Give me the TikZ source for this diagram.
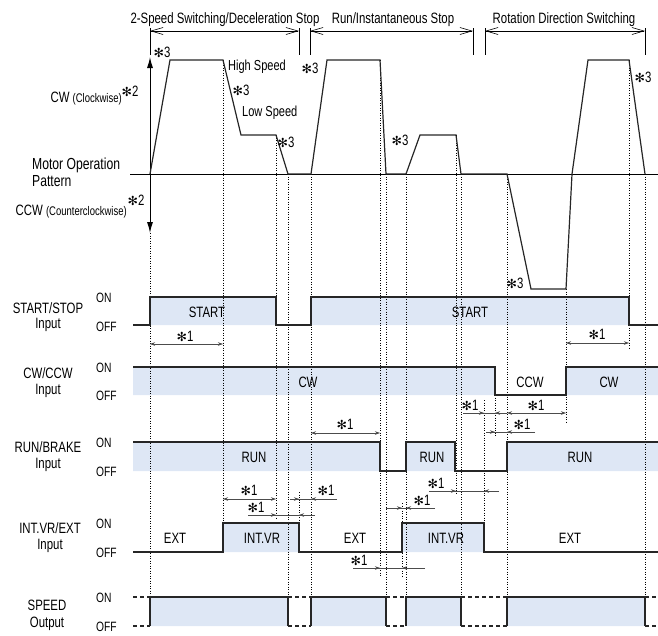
\documentclass[tikz,border=0pt]{standalone}
\usepackage{fontspec}
\setmainfont[FakeStretch=0.76]{Liberation Sans}
\newfontfamily\symfont{DejaVu Sans}
\usepackage{tikz}
\usetikzlibrary{arrows.meta}
\definecolor{bandblue}{RGB}{222,231,245}
\newcommand\starnote[1]{{\symfont\fontsize{12.5}{12.5}\selectfont ✻}#1}

\begin{document}
\begin{tikzpicture}[
    x=1pt, y=-1pt,
    txt/.style={inner sep=0, font=\fontsize{15}{17}\selectfont},
    lbl/.style={txt, anchor=base},
    small/.style={inner sep=0, font=\fontsize{14.5}{16}\selectfont},
    lvl/.style={inner sep=0, anchor=base west, font=\fontsize{13.5}{15}\selectfont},
    note/.style={inner sep=0, font=\fontsize{15}{17}\selectfont},
    band/.style={fill=bandblue},
    sig/.style={line width=1.3pt, draw=black!85},
    undef/.style={line width=1.2pt, draw=black!85, dash pattern=on 4pt off 3pt},
    guide/.style={line width=0.6pt, dash pattern=on 1pt off 1.5pt},
    dimline/.style={line width=0.6pt, draw=black!70},
    dim/.style={dimline, -{Stealth[length=5pt,width=3.5pt]}},
    dimboth/.style={dimline, {Stealth[length=5pt,width=3.5pt]}-{Stealth[length=5pt,width=3.5pt]}},
    span/.style={line width=0.6pt, {Straight Barb[length=12pt,width=7pt]}-{Straight Barb[length=12pt,width=7pt]}},
    axis/.style={line width=1pt, {Latex[length=11pt,width=6pt]}-{Latex[length=11pt,width=6pt]}},
]
\useasboundingbox (0,0) rectangle (658,635);

% === SECTION SPANS ===
\node[lbl] (sec1) at (225,23) {2-Speed Switching/Deceleration Stop};
\node[lbl] (sec2) at (393,23) {Run/Instantaneous Stop};
\node[lbl] (sec3) at (564,23) {Rotation Direction Switching};
\draw[line width=0.6pt] (150,28) -- (150,55) (299,28) -- (299,55) (310,28) -- (310,55)
    (473,28) -- (473,55) (485,28) -- (485,55) (645,28) -- (645,55);
\draw[span] (150,31) -- (299,31);
\draw[span] (310,31) -- (473,31);
\draw[span] (485,31) -- (645,31);

% === BANDS ===
\fill[band] (150,297) rectangle (276,325) (311,297) rectangle (629,325);
\fill[band] (133,367) rectangle (495,395) (566,367) rectangle (658,395);
\fill[band] (133,442) rectangle (380,471) (406,442) rectangle (455,471) (507,442) rectangle (658,471);
\fill[band] (223,523) rectangle (299,552) (402,523) rectangle (484,552);
\fill[band] (150,597) rectangle (288,626) (311,597) rectangle (386,626)
    (406,597) rectangle (461,626) (507,597) rectangle (645,626);

% === GUIDES ===
\draw[guide] (150,233) -- (150,597) (223,60) -- (223,523) (276,135) -- (276,520)
    (288,174) -- (288,597) (299,492) -- (299,523) (311,174) -- (311,597)
    (380,60) -- (380,577) (386,174) -- (386,597) (402,503) -- (402,577)
    (406,174) -- (406,597) (456,135) -- (456,495) (461,174) -- (461,597)
    (484,400) -- (484,523) (495,395) -- (495,437) (507,174) -- (507,597)
    (566,289) -- (566,422) (629,60) -- (629,350) (645,174) -- (645,597);

% === MOTOR OPERATION PATTERN ===
\draw[line width=0.9pt] (130,174) -- (658,174);
\draw[axis] (150,57) -- (150,233);
\draw[sig, line width=1.2pt] (150,174) -- (170,60) -- (223,60) -- (241,135) -- (276,135)
    -- (288,174) -- (311,174) -- (327,60) -- (380,60) -- (386,174) -- (406,174)
    -- (420,135) -- (456,135) -- (461,174) -- (507,174) -- (531,289) -- (566,289)
    -- (572,174) -- (588,60) -- (629,60) -- (645,174);

\node[txt, anchor=base east] (cwlbl) at (122,102) {CW {\fontsize{12.5}{14}\selectfont (Clockwise)}};
\node[note] (cwnote) at (130,91) {\starnote{2}};
\node[txt, anchor=base west, font=\fontsize{16}{18}\selectfont] (motor1) at (32,169) {Motor Operation};
\node[txt, anchor=base west, font=\fontsize{16}{18}\selectfont] (motor2) at (32,186.5) {Pattern};
\node[txt, anchor=base east] (ccwlbl) at (127,215) {CCW {\fontsize{12.5}{14}\selectfont (Counterclockwise)}};
\node[note] (ccwnote) at (136,200) {\starnote{2}};

\node[small, anchor=base west] (high) at (228,70.5) {High Speed};
\node[small, anchor=base west] (low) at (242,116.5) {Low Speed};
\node[note] (acc1) at (162,52) {\starnote{3}};
\node[note] (dec1) at (241,90) {\starnote{3}};
\node[note] (dec2) at (286,142) {\starnote{3}};
\node[note] (acc2) at (310,68) {\starnote{3}};
\node[note] (acc3) at (400,140) {\starnote{3}};
\node[note] (acc4) at (515,283) {\starnote{3}};
\node[note] (dec3) at (643,77) {\starnote{3}};

% === START/STOP INPUT ===
\draw[sig] (133,325) -- (150,325) -- (150,297) -- (276,297) -- (276,325) -- (311,325)
    -- (311,297) -- (629,297) -- (629,325) -- (658,325);
\node[lbl] (startA) at (48,313) {START/STOP};
\node[lbl] (startB) at (48,328) {Input};
\node[lvl] (startOn) at (96,302) {ON};
\node[lvl] (startOff) at (96,331) {OFF};
\node[lbl] (start1) at (207,317) {START};
\node[lbl] (start2) at (470,317) {START};

% === CW/CCW INPUT ===
\draw[sig] (133,367) -- (495,367) -- (495,395) -- (566,395) -- (566,367) -- (658,367);
\node[lbl] (dirA) at (48,378) {CW/CCW};
\node[lbl] (dirB) at (48,394) {Input};
\node[lvl] (dirOn) at (96,372) {ON};
\node[lvl] (dirOff) at (96,400) {OFF};
\node[lbl] (cw1) at (308,387) {CW};
\node[lbl] (ccw1) at (530,387) {CCW};
\node[lbl] (cw2) at (609,387) {CW};

% === RUN/BRAKE INPUT ===
\draw[sig] (133,442) -- (380,442) -- (380,471) -- (406,471) -- (406,442) -- (455,442)
    -- (455,471) -- (507,471) -- (507,442) -- (658,442);
\node[lbl] (runA) at (48,452) {RUN/BRAKE};
\node[lbl] (runB) at (48,468) {Input};
\node[lvl] (runOn) at (96,447) {ON};
\node[lvl] (runOff) at (96,476) {OFF};
\node[lbl] (run1) at (254,462) {RUN};
\node[lbl] (run2) at (432,462) {RUN};
\node[lbl] (run3) at (580,462) {RUN};

% === INT.VR/EXT INPUT ===
\draw[sig] (133,552) -- (223,552) -- (223,523) -- (299,523) -- (299,552) -- (402,552)
    -- (402,523) -- (484,523) -- (484,552) -- (658,552);
\node[lbl] (vrA) at (50,533) {INT.VR/EXT};
\node[lbl] (vrB) at (50,549) {Input};
\node[lvl] (vrOn) at (96,528) {ON};
\node[lvl] (vrOff) at (96,557) {OFF};
\node[lbl] (ext1) at (175,543) {EXT};
\node[lbl] (intvr1) at (262,543) {INT.VR};
\node[lbl] (ext2) at (355,543) {EXT};
\node[lbl] (intvr2) at (446,543) {INT.VR};
\node[lbl] (ext3) at (570,543) {EXT};

% === SPEED OUTPUT ===
\draw[sig] (150,626) -- (150,597) -- (288,597) -- (288,626);
\draw[sig] (311,626) -- (311,597) -- (386,597) -- (386,626);
\draw[sig] (406,626) -- (406,597) -- (461,597) -- (461,626);
\draw[sig] (507,626) -- (507,597) -- (645,597) -- (645,626);
\draw[undef] (133,597) -- (150,597) (133,626) -- (150,626) (288,597) -- (311,597) (288,626) -- (311,626)
    (386,597) -- (406,597) (386,626) -- (406,626) (461,597) -- (507,597) (461,626) -- (507,626)
    (645,597) -- (658,597) (645,626) -- (658,626);
\node[lbl] (spdA) at (47,610) {SPEED};
\node[lbl] (spdB) at (47,627) {Output};
\node[lvl] (spdOn) at (96,602) {ON};
\node[lvl] (spdOff) at (96,631) {OFF};

% === TIMING MARKS ===
\draw[dimboth] (150,344) -- (223,344);
\node[note] (t1) at (185,336) {\starnote{1}};
\draw[dimboth] (566,343) -- (629,343);
\node[note] (t2) at (597,334) {\starnote{1}};
\draw[dimboth] (311,433) -- (380,433);
\node[note] (t3) at (345,424) {\starnote{1}};
\draw[dimboth] (223,499) -- (276,499);
\node[note] (t4) at (249,490) {\starnote{1}};
\draw[dimline] (290,499) -- (337,499) (290,499) edge[dim] (299,499) (337,499) edge[dim] (311,499);
\node[note] (t5) at (326,490) {\starnote{1}};
\draw[dimline] (248,515) -- (315,515) (248,515) edge[dim] (276,515) (315,515) edge[dim] (299,515);
\node[note] (t6) at (256,507) {\starnote{1}};
\draw[dimline] (386,508) -- (435,508) (386,508) edge[dim] (402,508) (435,508) edge[dim] (406,508);
\node[note] (t7) at (422,500) {\starnote{1}};
\draw[dimline] (429,491) -- (499,491) (429,491) edge[dim] (456,491) (499,491) edge[dim] (484,491);
\node[note] (t8) at (436,483) {\starnote{1}};
\draw[dimline] (353,568) -- (425,568) (353,568) edge[dim] (380,568) (425,568) edge[dim] (402,568);
\node[note] (t9) at (359,560) {\starnote{1}};
\draw[dimline] (463,413) -- (507,413) (463,413) edge[dim] (484,413) (507,413) edge[dim] (495,413);
\node[note] (t10) at (470,405) {\starnote{1}};
\draw[dimboth] (507,413) -- (566,413);
\node[note] (t11) at (536,405) {\starnote{1}};
\draw[dimline] (486,432) -- (535,432) (486,432) edge[dim] (495,432) (535,432) edge[dim] (507,432);
\node[note] (t12) at (522,424) {\starnote{1}};

\end{tikzpicture}
\end{document}
